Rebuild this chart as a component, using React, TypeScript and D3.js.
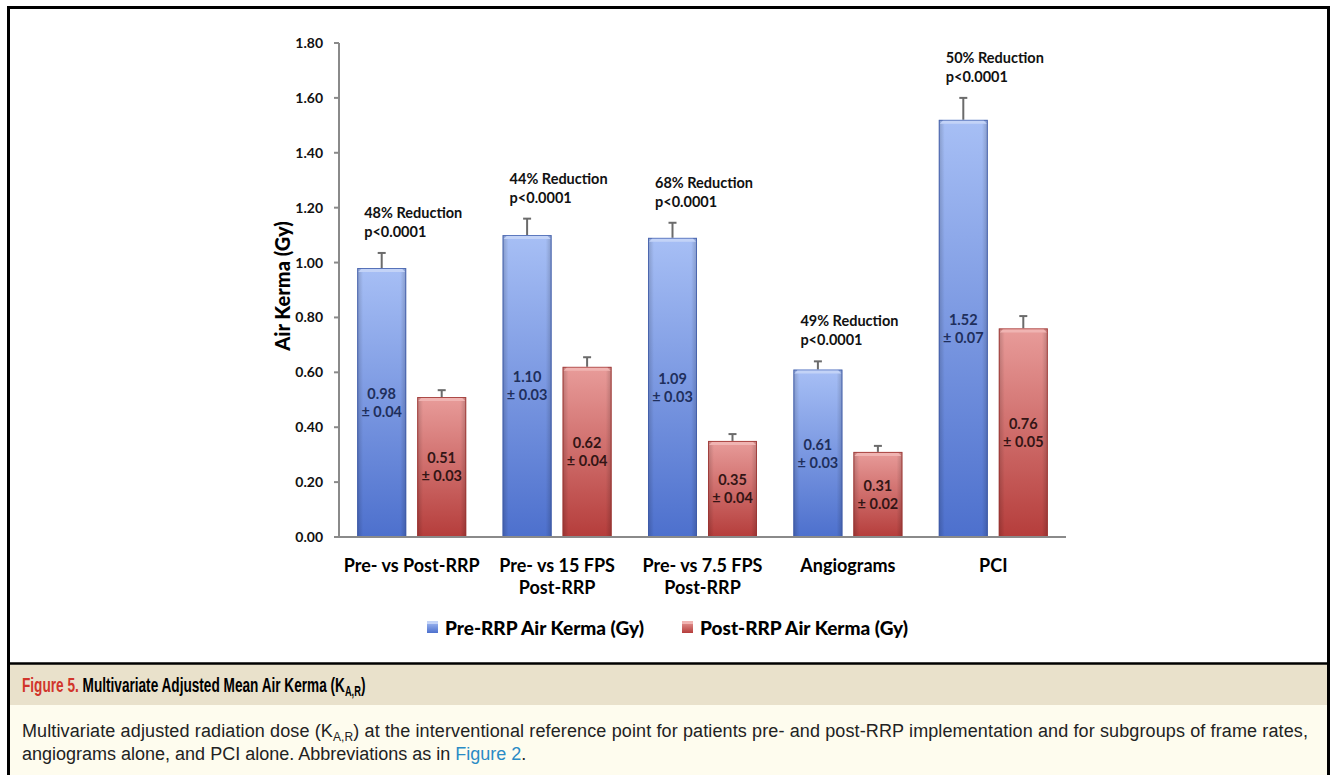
import React from "react";
import * as d3 from "d3";

const categories: string[][] = [
  ["Pre- vs Post-RRP"],
  ["Pre- vs 15 FPS", "Post-RRP"],
  ["Pre- vs 7.5 FPS", "Post-RRP"],
  ["Angiograms"],
  ["PCI"],
];
const preValues = [0.98, 1.1, 1.09, 0.61, 1.52];
const postValues = [0.51, 0.62, 0.35, 0.31, 0.76];
const preSE = ["0.04", "0.03", "0.03", "0.03", "0.07"];
const postSE = ["0.03", "0.04", "0.04", "0.02", "0.05"];
const preErr = [0.055, 0.06, 0.055, 0.03, 0.08];
const postErr = [0.025, 0.035, 0.025, 0.022, 0.045];
const reductions = ["48% Reduction", "44% Reduction", "68% Reduction", "49% Reduction", "50% Reduction"];
const pValues = ["p<0.0001", "p<0.0001", "p<0.0001", "p<0.0001", "p<0.0001"];
const yTicks = [0, 0.2, 0.4, 0.6, 0.8, 1.0, 1.2, 1.4, 1.6, 1.8];
const seriesNames = ["Pre-RRP Air Kerma (Gy)", "Post-RRP Air Kerma (Gy)"];
const yTitle = "Air Kerma (Gy)";

const FONT = "Lato, 'Open Sans', sans-serif";
const CAP = "'Liberation Sans', Arial, sans-serif";

export default function App() {
  const y = d3.scaleLinear().domain([0, 1.8]).range([537, 43]);
  const x0 = d3
    .scaleBand<number>()
    .domain(categories.map((_, i) => i))
    .range([339, 1066]);
  const x1 = d3
    .scaleBand<string>()
    .domain(["pre", "post"])
    .range([18.2, x0.bandwidth() - 18.2])
    .paddingInner(0.1833);
  const bw = x1.bandwidth();

  const series = [
    { key: "pre", values: preValues, err: preErr, se: preSE, grad: "gBlue", edge: "#3d5aa8", bevel: "#c3d3f7", text: "#1f2f5c" },
    { key: "post", values: postValues, err: postErr, se: postSE, grad: "gRed", edge: "#9b3230", bevel: "#f0b4b2", text: "#331515" },
  ];

  return (
    <svg
      width={1333}
      height={775}
      style={{ position: "absolute", left: 0, top: 0, background: "#fff" }}
    >
      <defs>
        <linearGradient id="gBlue" x1="0" y1="0" x2="0" y2="1">
          <stop offset="0" stopColor="#a7bff5" />
          <stop offset="1" stopColor="#4d70cd" />
        </linearGradient>
        <linearGradient id="gRed" x1="0" y1="0" x2="0" y2="1">
          <stop offset="0" stopColor="#e89c9a" />
          <stop offset="1" stopColor="#b53d3b" />
        </linearGradient>
        <linearGradient id="gSide" x1="0" y1="0" x2="1" y2="0">
          <stop offset="0" stopColor="#000" stopOpacity="0.18" />
          <stop offset="0.12" stopColor="#000" stopOpacity="0" />
          <stop offset="0.88" stopColor="#000" stopOpacity="0" />
          <stop offset="1" stopColor="#000" stopOpacity="0.18" />
        </linearGradient>
      </defs>

      {/* caption background */}
      <rect x={8} y={664} width={1321} height={41} fill="#e9e1cb" />
      <rect x={8} y={705} width={1321} height={72} fill="#fefcee" />
      <line x1={8} x2={1329} y1={663.5} y2={663.5} stroke="#000" strokeWidth={2.5} />
      <rect x={8.5} y={7.5} width={1320} height={800} fill="none" stroke="#000" strokeWidth={3} />

      {/* y axis */}
      <line x1={339} x2={339} y1={y(1.8)} y2={y(0)} stroke="#8a8a8a" strokeWidth={2} />
      {yTicks.map((t) => (
        <g key={t}>
          <line x1={334} x2={339} y1={y(t)} y2={y(t)} stroke="#8a8a8a" strokeWidth={2} />
          <text
            x={323}
            y={y(t)}
            dy="0.36em"
            textAnchor="end"
            fontFamily={FONT}
            fontWeight={700}
            fontSize={14}
            fill="#111"
          >
            {t.toFixed(2)}
          </text>
        </g>
      ))}
      <text
        transform={`translate(290,286) rotate(-90)`}
        textAnchor="middle"
        fontFamily={FONT}
        fontWeight={900}
        fontSize={20}
        fill="#000"
      >
        {yTitle}
      </text>

      {/* bars */}
      {categories.map((cat, i) => (
        <g key={i} transform={`translate(${x0(i)},0)`}>
          {series.map((s) => {
            const v = s.values[i];
            const bx = x1(s.key)!;
            const top = y(v);
            const h = y(0) - top;
            const eTop = y(v + s.err[i]);
            const cx = bx + bw / 2;
            const mid = top + h / 2;
            return (
              <g key={s.key}>
                <line x1={cx} x2={cx} y1={top} y2={eTop} stroke="#6b6b6b" strokeWidth={2} />
                <line x1={cx - 4} x2={cx + 4} y1={eTop} y2={eTop} stroke="#6b6b6b" strokeWidth={2} />
                <rect x={bx} y={top} width={bw} height={h} fill={`url(#${s.grad})`} />
                <rect x={bx} y={top} width={bw} height={h} fill="url(#gSide)" />
                <rect x={bx + 0.5} y={top + 0.5} width={bw - 1} height={h - 0.5} fill="none" stroke={s.edge} strokeWidth={1} strokeOpacity={0.8} />
                <path
                  d={`M${bx + 1},${top + 4} L${bx + 4},${top + 1} L${bx + bw - 4},${top + 1} L${bx + bw - 1},${top + 4} Z`}
                  fill={s.bevel}
                />
                <text
                  x={cx}
                  y={mid - 9}
                  dy="0.36em"
                  textAnchor="middle"
                  fontFamily={FONT}
                  fontSize={14.5}
                  fontWeight={700}
                  fill={s.text}
                >
                  {v.toFixed(2)}
                </text>
                <text
                  x={cx}
                  y={mid + 9}
                  dy="0.36em"
                  textAnchor="middle"
                  fontFamily={FONT}
                  fontSize={14.5}
                  fontWeight={700}
                  fill={s.text}
                >
                  {`± ${s.se[i]}`}
                </text>
              </g>
            );
          })}
          {/* annotation */}
          {(() => {
            const bx = x1("pre")!;
            const eTop = y(preValues[i] + preErr[i]);
            return (
              <g fontFamily={FONT} fontWeight={700} fontSize={14.5} fill="#111">
                <text x={bx + 7} y={eTop - 35}>{reductions[i]}</text>
                <text x={bx + 7} y={eTop - 16}>{pValues[i]}</text>
              </g>
            );
          })()}
          {/* category label */}
          {cat.map((line, j) => (
            <text
              key={j}
              x={x0.bandwidth() / 2}
              y={572 + j * 22}
              textAnchor="middle"
              fontFamily={FONT}
              fontWeight={700}
              fontSize={18}
              fill="#000"
            >
              {line}
            </text>
          ))}
        </g>
      ))}

      {/* x axis */}
      <line x1={335} x2={1066} y1={y(0)} y2={y(0)} stroke="#8a8a8a" strokeWidth={2} />

      {/* legend */}
      {series.map((s, k) => {
        const lx = k === 0 ? 427 : 682;
        return (
          <g key={s.key}>
            <rect x={lx} y={621} width={11} height={12} fill={`url(#${s.grad})`} />
            <rect x={lx} y={621} width={11} height={3} fill={s.bevel} />
            <text x={lx + 18} y={635} fontFamily={FONT} fontWeight={900} fontSize={19} fill="#000">
              {seriesNames[k]}
            </text>
          </g>
        );
      })}

      {/* caption */}
      <text
        transform="translate(22,692) scale(0.665,1)"
        fontFamily={CAP}
        fontWeight={700}
        fontSize={20.5}
      >
        <tspan fill="#d1352b">Figure 5.</tspan>
        <tspan fill="#000"> Multivariate Adjusted Mean Air Kerma (K</tspan>
        <tspan fill="#000" fontSize={14} dy={4}>A,R</tspan>
        <tspan fill="#000" dy={-4}>)</tspan>
      </text>
      <text
        x={22}
        y={737}
        fontFamily={CAP}
        fontSize={18}
        fill="#222"
        textLength={1286}
        lengthAdjust="spacing"
      >
        <tspan>Multivariate adjusted radiation dose (K</tspan>
        <tspan fontSize={12} dy={4}>A,R</tspan>
        <tspan dy={-4}>) at the interventional reference point for patients pre- and post-RRP implementation and for subgroups of frame rates,</tspan>
      </text>
      <text x={22} y={760} fontFamily={CAP} fontSize={18} fill="#222">
        <tspan>angiograms alone, and PCI alone. Abbreviations as in </tspan>
        <tspan fill="#2a8bc5">Figure 2</tspan>
        <tspan>.</tspan>
      </text>
    </svg>
  );
}
